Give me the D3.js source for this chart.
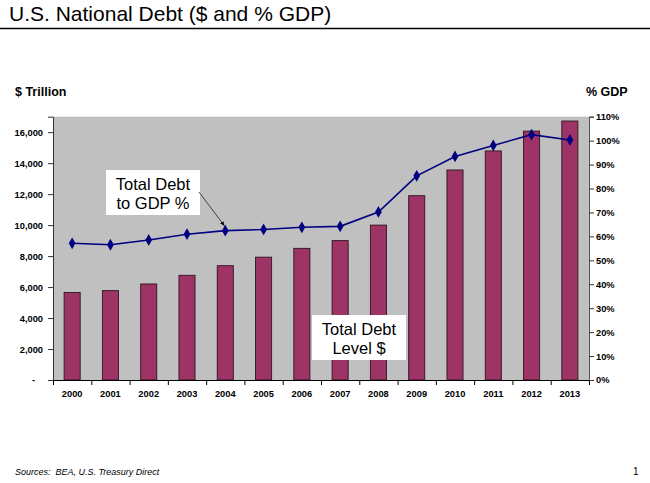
<!DOCTYPE html>
<html>
<head>
<meta charset="utf-8">
<script src="https://cdn.jsdelivr.net/npm/d3@7"></script>
<style>
  body { margin: 0; background: #fff; }
  svg { display: block; font-family: "Liberation Sans", Arial, sans-serif; }
  .tick text { font-weight: bold; font-size: 9.3px; fill: #000; }
</style>
</head>
<body>
<svg id="chart" width="650" height="483"></svg>
<script>
// data
const years = ['2000','2001','2002','2003','2004','2005','2006','2007','2008','2009','2010','2011','2012','2013']
const debt = [5650, 5770, 6200, 6760, 7380, 7930, 8500, 9000, 10000, 11900, 13560, 14790, 16070, 16720]
const debtToGdp = [0.571, 0.565, 0.585, 0.609, 0.624, 0.629, 0.638, 0.642, 0.702, 0.853, 0.934, 0.980, 1.025, 1.003]
const leftTicks = [0, 2000, 4000, 6000, 8000, 10000, 12000, 14000, 16000]
const rightTicks = [0, .1, .2, .3, .4, .5, .6, .7, .8, .9, 1.0, 1.1]

const svg = d3.select('#chart')
const plot = {left: 53, right: 589, top: 116.7, bottom: 380}

// title + rule
svg.append('text').attr('x', 9).attr('y', 21)
  .attr('font-size', 21).text('U.S. National Debt ($ and % GDP)')
svg.append('line').attr('x1', 0).attr('x2', 650).attr('y1', 28.5).attr('y2', 28.5)
  .attr('stroke', '#000').attr('stroke-width', 1.5)

// scales
const x = d3.scaleBand().domain(years)
  .range([plot.left, plot.right])
  .paddingInner(0.58).paddingOuter(0.29)
const xIdx = d3.scaleLinear().domain([0, years.length]).range([plot.left, plot.right])
const yL = d3.scaleLinear().domain([0, 17000]).range([plot.bottom, plot.top])
const yR = d3.scaleLinear().domain([0, 1.1]).range([plot.bottom, plot.top])

// plot background
svg.append('rect')
  .attr('x', plot.left).attr('y', plot.top)
  .attr('width', plot.right - plot.left).attr('height', plot.bottom - plot.top)
  .attr('fill', '#C0C0C0')

// bars
svg.append('g')
  .selectAll('rect')
  .data(debt)
  .join('rect')
  .attr('x', (d, i) => x(years[i]))
  .attr('y', d => yL(d))
  .attr('width', x.bandwidth())
  .attr('height', d => yL(0) - yL(d))
  .attr('fill', '#9E3366')
  .attr('stroke', '#2b1520')
  .attr('stroke-width', 0.9)

// debt / gdp line
const line = d3.line()
  .x((d, i) => x(years[i]) + x.bandwidth() / 2)
  .y(d => yR(d))
svg.append('path')
  .datum(debtToGdp)
  .attr('d', line)
  .attr('fill', 'none')
  .attr('stroke', '#000080')
  .attr('stroke-width', 1.6)
svg.append('g')
  .selectAll('path')
  .data(debtToGdp)
  .join('path')
  .attr('d', d3.symbol(d3.symbolDiamond, 40))
  .attr('transform', (d, i) => 'translate(' + (x(years[i]) + x.bandwidth() / 2) + ',' + yR(d) + ')')
  .attr('fill', '#000080')

// left axis
const gL = svg.append('g')
  .attr('transform', 'translate(' + plot.left + ',0)')
  .call(d3.axisLeft(yL).tickValues(leftTicks).tickSize(5).tickPadding(5)
    .tickFormat(d => d === 0 ? '-' : d3.format(',')(d)))
gL.select('.domain').attr('stroke', '#333')
gL.selectAll('.tick line').attr('stroke', '#333')
gL.selectAll('.tick text').filter(d => d === 0).attr('x', -18)

// right axis
const gR = svg.append('g')
  .attr('transform', 'translate(' + plot.right + ',0)')
  .call(d3.axisRight(yR).tickValues(rightTicks).tickSize(5).tickPadding(2)
    .tickFormat(d3.format('.0%')))
gR.select('.domain').attr('stroke', '#555')
gR.selectAll('.tick line').attr('stroke', '#333')

// bottom axis: boundary ticks + centred labels
const gB = svg.append('g')
  .attr('transform', 'translate(0,' + plot.bottom + ')')
  .call(d3.axisBottom(xIdx).tickValues(d3.range(years.length + 1))
    .tickSize(5).tickFormat(''))
gB.select('.domain').attr('stroke', '#000')
gB.selectAll('.tick line').attr('stroke', '#000')
svg.append('g')
  .attr('transform', 'translate(0,' + plot.bottom + ')')
  .call(d3.axisBottom(x).tickSize(0).tickPadding(10))
  .call(g => g.select('.domain').remove())

// axis titles
svg.append('text').attr('x', 15).attr('y', 96)
  .attr('font-size', 12.5).attr('font-weight', 'bold').text('$ Trillion')
svg.append('text').attr('x', 586).attr('y', 96)
  .attr('font-size', 12.5).attr('font-weight', 'bold').text('% GDP')

// call-out boxes
const defs = svg.append('defs')
defs.append('marker').attr('id', 'arrow')
  .attr('viewBox', '0 0 10 10').attr('refX', 9).attr('refY', 5)
  .attr('markerWidth', 6).attr('markerHeight', 6).attr('orient', 'auto')
  .append('path').attr('d', 'M0,1 L10,5 L0,9 Z').attr('fill', '#000')

function callout(bx, by, lines) {
  svg.append('rect').attr('x', bx).attr('y', by).attr('width', 94).attr('height', 45)
    .attr('fill', '#fff')
  svg.append('text').attr('font-size', 16.5).attr('text-anchor', 'middle')
    .selectAll('tspan').data(lines).join('tspan')
    .attr('x', bx + 47).attr('y', (d, i) => by + 20 + i * 18.5)
    .text(d => d)
}
callout(106, 170, ['Total Debt', 'to GDP %'])
callout(312, 315, ['Total Debt', 'Level $'])

svg.append('line')
  .attr('x1', 199).attr('y1', 192)
  .attr('x2', x('2004') + x.bandwidth() / 2 - 1).attr('y2', yR(debtToGdp[4]) - 5)
  .attr('stroke', '#222').attr('stroke-width', 0.8)
  .attr('marker-end', 'url(#arrow)')

// footer
svg.append('text').attr('x', 15).attr('y', 475)
  .attr('font-size', 9).attr('font-style', 'italic')
  .attr('xml:space', 'preserve').text('Sources:  BEA, U.S. Treasury Direct')
svg.append('text').attr('x', 633).attr('y', 475)
  .attr('font-size', 10).text('1')
</script>
</body>
</html>
